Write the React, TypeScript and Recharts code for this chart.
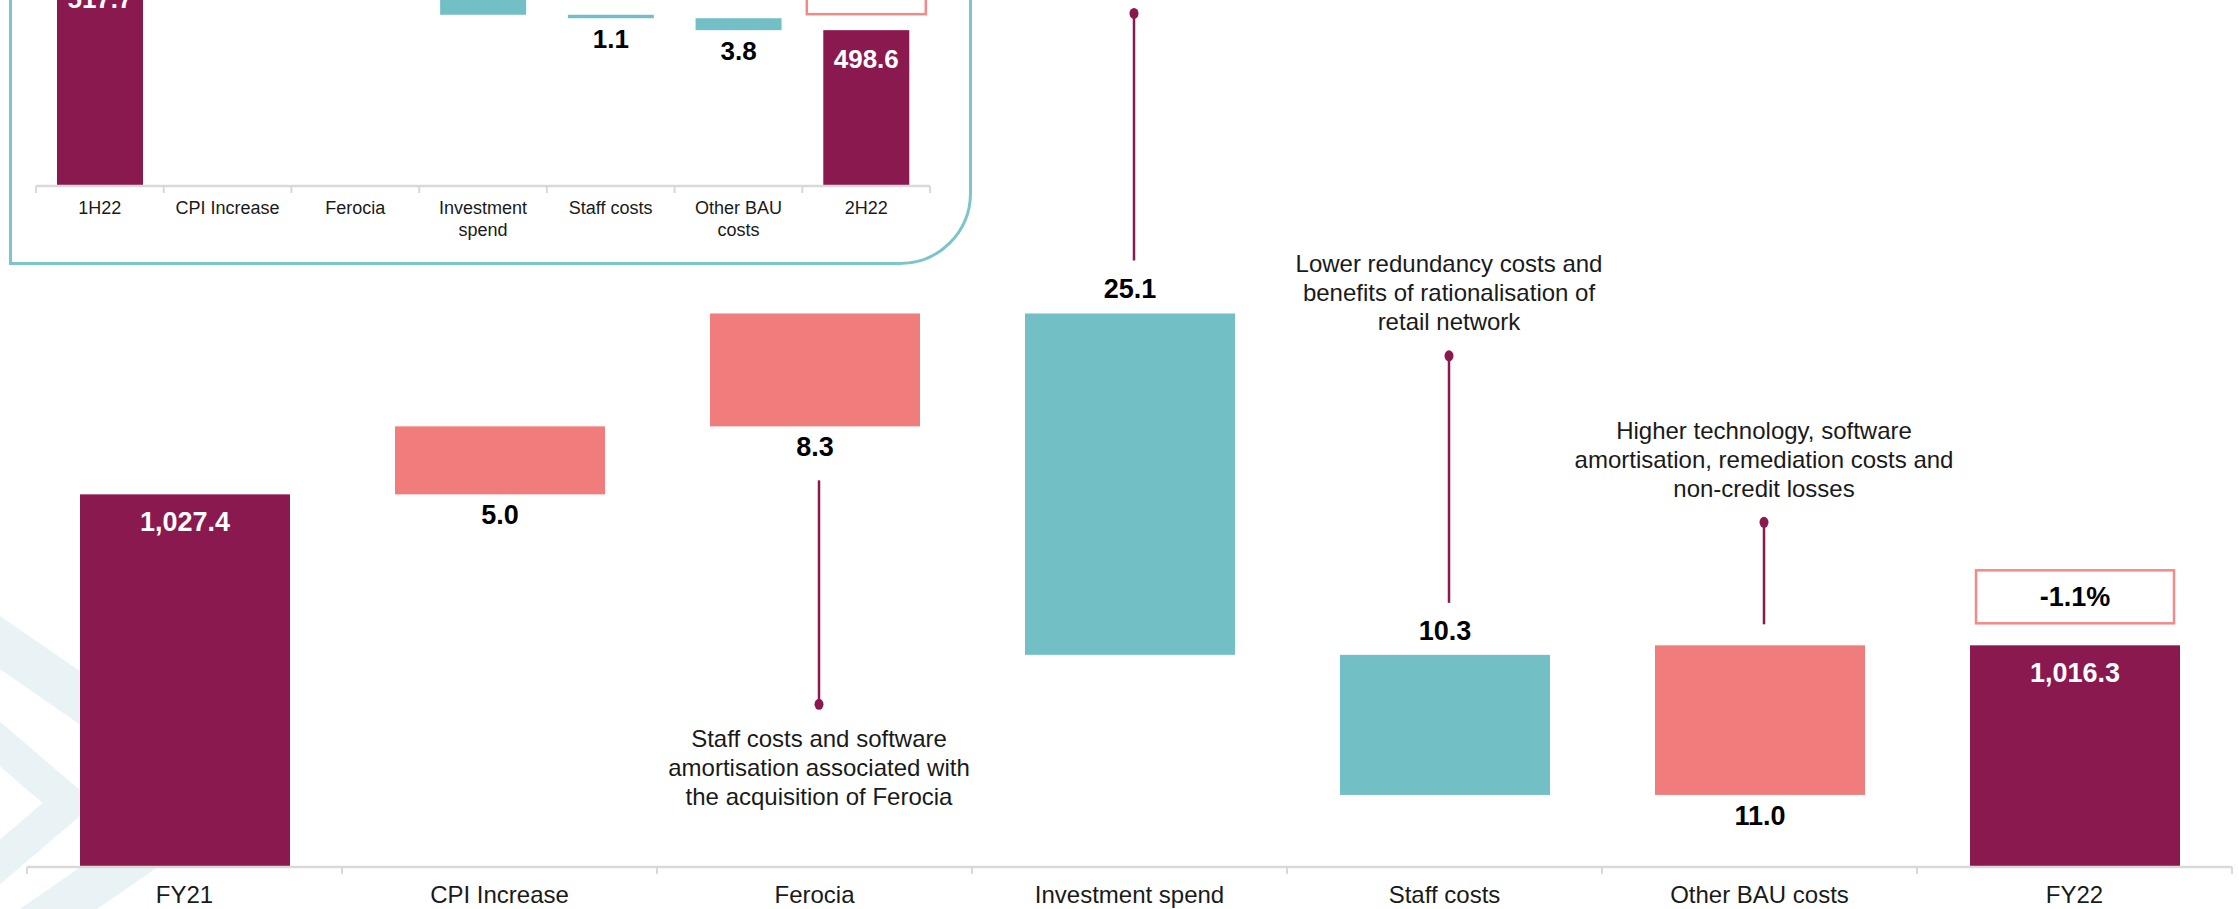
import React from 'react';
import { BarChart, Bar, XAxis, YAxis } from 'recharts';

const FONT = '"Liberation Sans", Arial, Helvetica, sans-serif';
const PURPLE = '#8A1950';
const SALMON = '#F07D7C';
const TEAL = '#73BFC6';
const AXIS_GREY = '#D9D9D9';
const FRAME = '#7DC5CB';
const CHEVRON = '#E9F3F6';

// FY21 -> FY22 operating expense bridge ($m)
const fyCategories = ['FY21', 'CPI Increase', 'Ferocia', 'Investment spend', 'Staff costs', 'Other BAU costs', 'FY22'];
const fyOpening = 1027.4;
const fyMoves = [5.0, 8.3, -25.1, -10.3, 11.0];
const fyClosing = 1016.3;

// 1H22 -> 2H22 bridge ($m). CPI / Ferocia / Investment sit above the crop, so those three are rough guesses
const hCategories = ['1H22', 'CPI Increase', 'Ferocia', 'Investment\nspend', 'Staff costs', 'Other BAU\ncosts', '2H22'];
const hOpening = 517.7;
const hMoves = [2.4, 1.7, -18.3, -1.1, -3.8];
const hClosing = 498.6;

// commentary attached to the FY bridge
const fyNotes = [
  { category: 'Ferocia', lines: ['Staff costs and software', 'amortisation associated with', 'the acquisition of Ferocia'] },
  { category: 'Investment spend', lines: [] },
  { category: 'Staff costs', lines: ['Lower redundancy costs and', 'benefits of rationalisation of', 'retail network'] },
  { category: 'Other BAU costs', lines: ['Higher technology, software', 'amortisation, remediation costs and', 'non-credit losses'] },
];

// where each callout sits relative to its bar (px)
const calloutLayout = {
  'Ferocia': { side: 'below', gap: 54, length: 224 },
  'Investment spend': { side: 'above', gap: 53, length: 247 },
  'Staff costs': { side: 'above', gap: 52, length: 247 },
  'Other BAU costs': { side: 'above', gap: 21, length: 102 },
};

const fyLayout = {
  width: 2239, height: 909, left: 27, right: 7, axisHeight: 42, barSize: 210,
  domain: [1000, 1063.75], tickFont: 24, tickLineHeight: 29, tickDy: 27,
  valueFont: 27, totalDy: 28, downSide: 'above', sides: {},
  badge: { w: 198, h: 53, gap: 22 },
};

const hLayout = {
  width: 970, height: 263, left: 36, right: 40, axisHeight: 77, barSize: 86,
  domain: [449, 508.2], tickFont: 18, tickLineHeight: 22, tickDy: 22,
  valueFont: 26, totalDy: 29, downSide: 'below',
  sides: { 'CPI Increase': 'above', 'Ferocia': 'above', 'Investment\nspend': 'above' },
  badge: { w: 119, h: 53, gap: 16 },
};

type Row = { name: string; range: [number, number]; value: number; kind: 'total' | 'up' | 'down' };

function buildRows(cats: string[], opening: number, moves: number[], closing: number): Row[] {
  const rows: Row[] = [{ name: cats[0], range: [0, opening], value: opening, kind: 'total' }];
  let level = opening;
  moves.forEach((m, i) => {
    const next = level + m;
    rows.push({
      name: cats[i + 1],
      range: [Math.min(level, next), Math.max(level, next)],
      value: Math.abs(m),
      kind: m >= 0 ? 'up' : 'down',
    });
    level = next;
  });
  rows.push({ name: cats[cats.length - 1], range: [0, closing], value: closing, kind: 'total' });
  return rows;
}

const fmt = (v: number) => v.toLocaleString('en-US', { minimumFractionDigits: 1, maximumFractionDigits: 1 });

function CategoryTick(props: any) {
  const { x, y, payload, index, layout, count } = props;
  const band = (layout.width - layout.left - layout.right) / count;
  const lines = String(payload.value).split('\n');
  return (
    <g>
      <line x1={x - band / 2} x2={x - band / 2} y1={y} y2={y + 7} stroke={AXIS_GREY} strokeWidth={2} />
      {index === count - 1 && (
        <line x1={x + band / 2} x2={x + band / 2} y1={y} y2={y + 7} stroke={AXIS_GREY} strokeWidth={2} />
      )}
      <text x={x} y={y + layout.tickDy} textAnchor="middle" dominantBaseline="central"
        fontSize={layout.tickFont} fill="#1a1a1a" fontFamily={FONT}>
        {lines.map((l, i) => (
          <tspan key={i} x={x} dy={i === 0 ? 0 : layout.tickLineHeight}>{l}</tspan>
        ))}
      </text>
    </g>
  );
}

function StepShape(props: any) {
  const { x, y, width, height, payload, index, layout, notes, badgeText, count } = props;
  const row: Row = payload;
  const cx = x + width / 2;
  const fill = row.kind === 'total' ? PURPLE : row.kind === 'up' ? SALMON : TEAL;
  const bottom = y + height;

  let labelY = y + layout.totalDy;
  let labelFill = '#fff';
  let text = fmt(row.value);
  if (row.kind !== 'total') {
    labelFill = '#000';
    text = row.value.toFixed(1);
    const side = layout.sides[row.name] || (row.kind === 'up' ? 'below' : layout.downSide);
    labelY = side === 'below' ? bottom + 21 : y - 24;
  }

  const note = notes.find((n: any) => n.category === row.name);
  let callout = null;
  if (note) {
    const c = calloutLayout[row.name];
    const lx = cx + 4;
    if (c.side === 'above') {
      const y2 = y - c.gap;
      const dot = y2 - c.length;
      const n = note.lines.length;
      callout = (
        <g>
          <line x1={lx} x2={lx} y1={dot} y2={y2} stroke={PURPLE} strokeWidth={2.5} />
          <ellipse cx={lx} cy={dot} rx={4.5} ry={5.5} fill={PURPLE} />
          {note.lines.map((l: string, i: number) => (
            <text key={i} x={lx} y={dot - 34 - (n - 1 - i) * 29} textAnchor="middle" dominantBaseline="central"
              fontSize={24} fill="#1a1a1a" fontFamily={FONT}>{l}</text>
          ))}
        </g>
      );
    } else {
      const y1 = bottom + c.gap;
      const dot = y1 + c.length;
      callout = (
        <g>
          <line x1={lx} x2={lx} y1={y1} y2={dot} stroke={PURPLE} strokeWidth={2.5} />
          <ellipse cx={lx} cy={dot} rx={4.5} ry={5.5} fill={PURPLE} />
          {note.lines.map((l: string, i: number) => (
            <text key={i} x={lx} y={dot + 34 + i * 29} textAnchor="middle" dominantBaseline="central"
              fontSize={24} fill="#1a1a1a" fontFamily={FONT}>{l}</text>
          ))}
        </g>
      );
    }
  }

  let badge = null;
  if (index === count - 1) {
    const b = layout.badge;
    const by = y - b.gap - b.h;
    badge = (
      <g>
        <rect x={cx - b.w / 2} y={by} width={b.w} height={b.h} fill="#fff" stroke="#F28A88" strokeWidth={2.5} />
        <text x={cx} y={by + b.h / 2} textAnchor="middle" dominantBaseline="central"
          fontSize={layout.valueFont} fontWeight="bold" fill="#000" fontFamily={FONT}>{badgeText}</text>
      </g>
    );
  }

  return (
    <g>
      <rect x={x} y={y} width={width} height={height} fill={fill} />
      <text x={cx} y={labelY} textAnchor="middle" dominantBaseline="central"
        fontSize={layout.valueFont} fontWeight="bold" fill={labelFill} fontFamily={FONT}>{text}</text>
      {callout}
      {badge}
    </g>
  );
}

function Waterfall({ rows, layout, notes, badgeText }: any) {
  const count = rows.length;
  return (
    <BarChart width={layout.width} height={layout.height} data={rows}
      margin={{ top: 0, right: layout.right, bottom: 0, left: layout.left }}>
      <XAxis dataKey="name" height={layout.axisHeight} interval={0} tickLine={false} tickSize={0} tickMargin={0}
        axisLine={{ stroke: AXIS_GREY, strokeWidth: 2.5 }}
        tick={(p: any) => <CategoryTick {...p} layout={layout} count={count} />} />
      <YAxis hide domain={layout.domain} allowDataOverflow />
      <Bar dataKey="range" barSize={layout.barSize} isAnimationActive={false}
        shape={(p: any) => <StepShape {...p} layout={layout} notes={notes} badgeText={badgeText} count={count} />} />
    </BarChart>
  );
}

const pct = (a: number, b: number) => ((b / a - 1) * 100).toFixed(1) + '%';

export default function App() {
  const fyRows = buildRows(fyCategories, fyOpening, fyMoves, fyClosing);
  const hRows = buildRows(hCategories, hOpening, hMoves, hClosing);

  return (
    <div style={{ position: 'absolute', left: 0, top: 0, width: 2239, height: 909, overflow: 'hidden', background: '#fff', fontFamily: FONT }}>
      {/* faint background chevrons */}
      <svg width={2239} height={909} style={{ position: 'absolute', left: 0, top: 0 }}>
        <polyline points="-40,615 222,796 -40,977" fill="none" stroke={CHEVRON} strokeWidth={44} />
        <polyline points="-40,710 69,803 -40,896" fill="none" stroke={CHEVRON} strokeWidth={34} />
      </svg>

      <div style={{ position: 'absolute', left: 0, top: 0 }}>
        <Waterfall rows={fyRows} layout={fyLayout} notes={fyNotes} badgeText={pct(fyOpening, fyClosing)} />
      </div>

      {/* half-on-half inset */}
      <div style={{
        position: 'absolute', left: 9, top: -60, width: 963, height: 325, boxSizing: 'border-box',
        border: `3px solid ${FRAME}`, borderBottomRightRadius: 72, background: '#fff',
      }} />
      <div style={{ position: 'absolute', left: 0, top: 0 }}>
        <Waterfall rows={hRows} layout={hLayout} notes={[]} badgeText={pct(hOpening, hClosing)} />
      </div>
    </div>
  );
}
